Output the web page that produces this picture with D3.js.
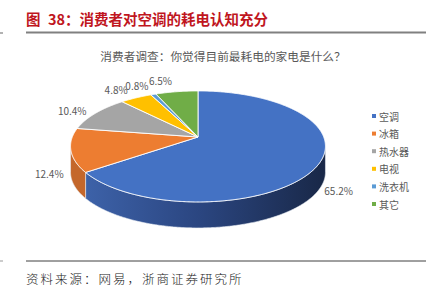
<!DOCTYPE html>
<html>
<head>
<meta charset="utf-8">
<script src="https://cdn.jsdelivr.net/npm/d3@7"></script>
<style>
  body { margin: 0; background: #fff; }
  text { font-family: "Noto Sans CJK SC", "Noto Sans", sans-serif; }
</style>
</head>
<body>
<div id="chart"></div>
<script>
// Data
const categories = ['空调', '冰箱', '热水器', '电视', '洗衣机', '其它']
const shares = [65.2, 12.4, 10.4, 4.8, 0.8, 6.5]
const colors = ['#4472C4', '#ED7D31', '#A5A5A5', '#FFC000', '#5B9BD5', '#70AD47']
const sideColors = [null, '#c4672b', '#8a8a8a', '#d4a000', '#4a82b6', '#5c9139']

const titleText = '38：消费者对空调的耗电认知充分'
const subtitle = '消费者调查：你觉得目前最耗电的家电是什么？'
const sourceText = '资料来源：网易，浙商证券研究所'

// Dimensions
const width = 439, height = 301
const pie3d = { cx: 198, cy: 137, rx: 125.7, ry: 55.5, k: 0.17, depth: 26 }

const svg = d3.select('#chart').append('svg')
    .attr('width', width)
    .attr('height', height)

// header / footer rules
svg.append('line').attr('x1', 26).attr('x2', 426).attr('y1', 32.5).attr('y2', 32.5)
    .attr('stroke', '#808080').attr('stroke-width', 2)
svg.append('line').attr('x1', 0).attr('x2', 3).attr('y1', 33).attr('y2', 33)
    .attr('stroke', '#999').attr('stroke-width', 1.5)
svg.append('line').attr('x1', 26).attr('x2', 426).attr('y1', 261).attr('y2', 261)
    .attr('stroke', '#404040').attr('stroke-width', 1)
svg.append('line').attr('x1', 0).attr('x2', 3).attr('y1', 261).attr('y2', 261)
    .attr('stroke', '#999').attr('stroke-width', 1)

// title
svg.append('text').attr('x', 26).attr('y', 25)
    .attr('fill', '#C0161E').attr('font-size', 14.5).attr('font-weight', 'bold')
    .text('图')
svg.append('text').attr('x', 48).attr('y', 25)
    .attr('fill', '#C0161E').attr('font-size', 14.5).attr('font-weight', 'bold')
    .text(titleText)

// subtitle
svg.append('text').attr('x', 223).attr('y', 61)
    .attr('text-anchor', 'middle')
    .attr('fill', '#595959').attr('font-size', 11.7)
    .text(subtitle)

// source
svg.append('text').attr('x', 26).attr('y', 284)
    .attr('fill', '#222').attr('font-size', 12.5).attr('letter-spacing', 2)
    .attr('font-weight', 300)
    .text(sourceText)

// perspective projection of a point on the pie plane (phi clockwise from 12 o'clock)
function project(phi, r = 1) {
    const u = r * Math.sin(phi)
    const v = -r * Math.cos(phi)
    const w = 1 + pie3d.k * v
    return [pie3d.cx + pie3d.rx * u * w, pie3d.cy + pie3d.ry * v * w]
}
function rimPoints(a0, a1) {
    const n = Math.max(2, Math.ceil((a1 - a0) / (Math.PI / 360)))
    return d3.range(n + 1).map(i => project(a0 + (a1 - a0) * i / n))
}

const arcs = d3.pie().sort(null).value(d => d)(shares)

// silhouette of the front wall: angles of max and min screen x
const samples = d3.range(0, 2 * Math.PI, Math.PI / 720)
const phiR = samples[d3.maxIndex(samples, a => project(a)[0])]
const phiL = samples[d3.minIndex(samples, a => project(a)[0])]

const defs = svg.append('defs')
const grad = defs.append('linearGradient').attr('id', 'blueSide')
    .attr('gradientUnits', 'userSpaceOnUse')
    .attr('x1', pie3d.cx - pie3d.rx).attr('x2', pie3d.cx + pie3d.rx)
    .attr('y1', 0).attr('y2', 0)
grad.append('stop').attr('offset', 0).attr('stop-color', '#3f65ad')
grad.append('stop').attr('offset', 0.5).attr('stop-color', '#2b4681')
grad.append('stop').attr('offset', 1).attr('stop-color', '#192848')

const line = d3.line()

// side walls
const sides = svg.append('g')
arcs.forEach((a, i) => {
    const a0 = Math.max(a.startAngle, phiR)
    const a1 = Math.min(a.endAngle, phiL)
    if (a1 <= a0) return
    const top = rimPoints(a0, a1)
    const bottom = top.map(p => [p[0], p[1] + pie3d.depth]).reverse()
    sides.append('path')
        .attr('d', line(top.concat(bottom)) + 'Z')
        .attr('fill', i === 0 ? 'url(#blueSide)' : sideColors[i])
        .attr('stroke', '#e8ecf4').attr('stroke-width', 0.6)
})

// top faces
const tops = svg.append('g')
arcs.forEach((a, i) => {
    const pts = [project(0, 0)].concat(rimPoints(a.startAngle, a.endAngle))
    tops.append('path')
        .attr('d', line(pts) + 'Z')
        .attr('fill', colors[i])
        .attr('stroke', '#fff').attr('stroke-width', 0.9)
        .attr('stroke-linejoin', 'round')
})

// data labels (best-fit nudges as Excel lays them out)
const labelNudge = [[-6, 22], [5, 22], [-5, 3], [-10, 0], [-9.5, -0.7], [-13, -3]]
svg.append('g').selectAll('text')
    .data(arcs)
    .join('text')
    .attr('x', (d, i) => project((d.startAngle + d.endAngle) / 2, 1.2)[0] + labelNudge[i][0])
    .attr('y', (d, i) => project((d.startAngle + d.endAngle) / 2, 1.2)[1] + labelNudge[i][1])
    .attr('text-anchor', 'middle')
    .attr('dominant-baseline', 'middle')
    .attr('font-family', '"Noto Sans", sans-serif')
    .attr('font-size', 10)
    .attr('fill', '#595959')
    .text(d => d.data.toFixed(1) + '%')

// legend
const legendY = d3.scalePoint().domain(categories).range([116, 204])
const legend = svg.append('g').selectAll('g')
    .data(categories)
    .join('g')
    .attr('transform', d => `translate(372,${legendY(d)})`)
legend.append('rect')
    .attr('x', 0).attr('y', -2).attr('width', 4).attr('height', 4)
    .attr('fill', (d, i) => colors[i])
legend.append('text')
    .attr('x', 7).attr('y', 0)
    .attr('dominant-baseline', 'central')
    .attr('font-size', 10)
    .attr('fill', '#595959')
    .text(d => d)
</script>
</body>
</html>
